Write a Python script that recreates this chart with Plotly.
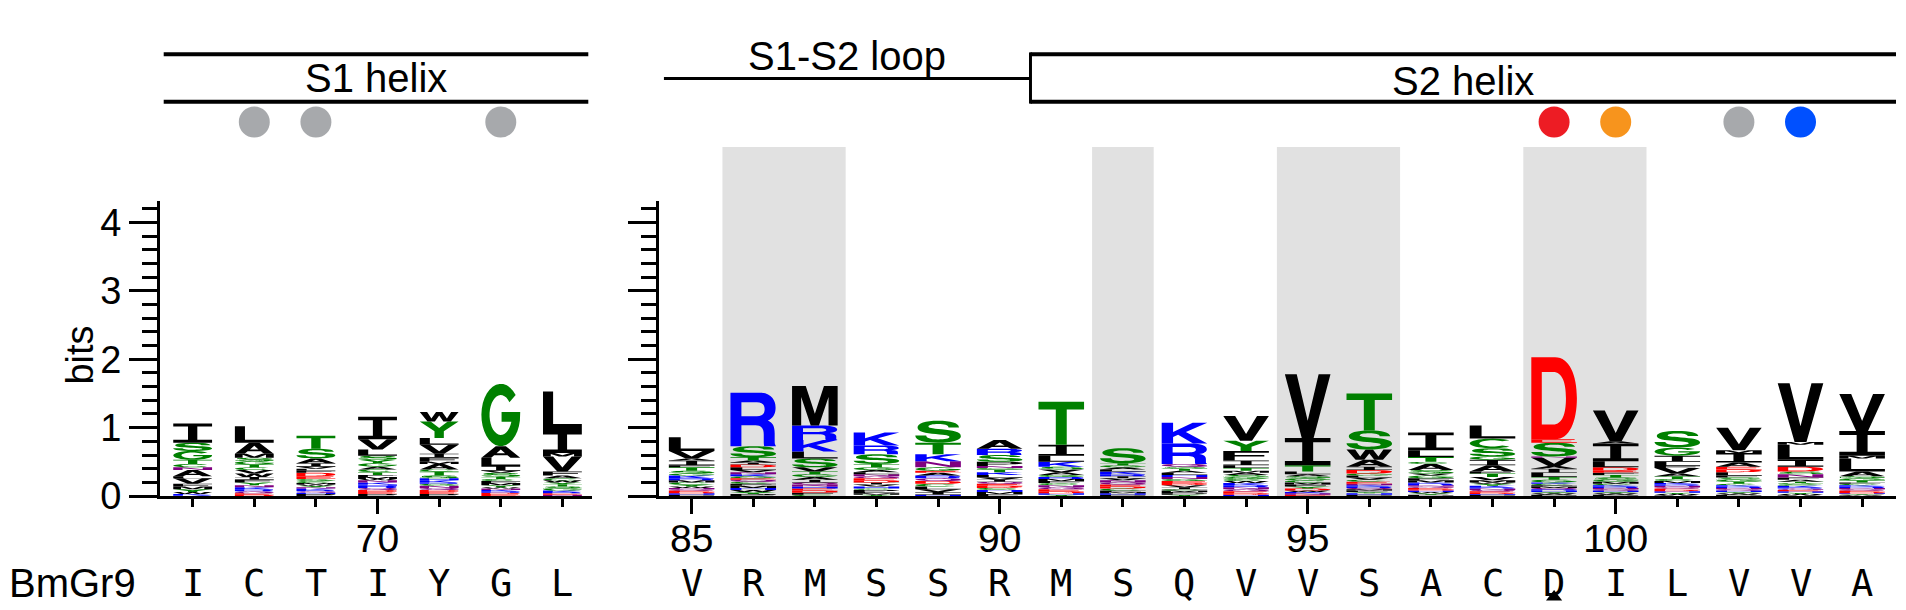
import re

import numpy as np
import plotly.graph_objects as go

W, H = 1906, 610

# ---------------- data ----------------
left_pos = list(range(67, 74))
right_pos = list(range(85, 105))
left_seq = list("ICTIYGL")
right_seq = list("VRMSSRMSQVVSACDILVVA")

# letters of each stack (top letter first) and their heights in bits
left_letters = [
    "ISGTCNALVFMYWKR",
    "LAMSGTCVWIFYNKRQED",
    "TSAIVLFDEGCMWYNKRQHP",
    "IVLSYGACTFMWNKHRQDEP",
    "WYLVIFMACTSHKRGNQDEP",
    "GALIVSTCFMYWNKRDE",
    "LIMVFACWYTSGKREN",
]
left_bits = [
    [.28, .12, .13, .06, .05, .04, .09, .03, .08, .04, .04, .04, .03, .02, .01],
    [.24, .16, .06, .05, .05, .04, .04, .05, .05, .04, .04, .04, .03, .03, .03, .03, .02, .02],
    [.19, .14, .07, .05, .03, .03, .03, .05, .04, .03, .03, .02, .02, .02, .02, .02, .02, .02, .02, .03],
    [.33, .15, .09, .06, .05, .05, .04, .04, .04, .03, .03, .02, .03, .03, .02, .03, .03, .03, .03, .03],
    [.14, .24, .10, .13, .06, .06, .03, .08, .03, .06, .04, .03, .03, .02, .03, .03, .03, .03, .03, .03],
    [.91, .17, .12, .07, .03, .06, .03, .03, .03, .03, .03, .02, .02, .02, .02, .02, .03],
    [.58, .32, .05, .22, .06, .04, .03, .03, .03, .03, .03, .03, .02, .02, .02, .02],
]
right_letters = [
    "LVAIFTSGKRMCYWNQEDHP",
    "RSTAIDLVNKGEQCFMHWYP",
    "MRKLSVTGAIQNHEDFC",
    "KRSTGALNQEDIVHCPFMY",
    "STKNGEARQDCLVIH",
    "ARSPNGTKLVIQEDCHMF",
    "TILKSVAGRMFCNQEDHY",
    "STGALKRIVNQEDCFMHP",
    "KRQSTALHNGEDVICMFPY",
    "VYFILTMASGCWKRNQEDH",
    "VITLASGCMFYDWKNE",
    "TSWAIDGLVCENKRQMFYHP",
    "ILTCASVGFMKRNQEDHWYP",
    "LCSGIAFTVMWYKRNQEDHP",
    "DESNVAILTGKCFMQRHYWP",
    "VAILDEFTSGMCKRNQHYWP",
    "SGILFVATCMKRNQEDHYWP",
    "VMIAEDLFSGTCKRNQHYWP",
    "VMLIDSNFATGCKRQEHYWP",
    "VIMLASGTFCKRNQEDHYWP",
]
right_bits = [
    [.20, .11, .03, .07, .03, .05, .04, .03, .04, .03, .03, .03, .03, .02, .02, .02, .02, .02, .02, .02],
    [.78, .16, .05, .03, .03, .04, .04, .03, .03, .03, .03, .02, .03, .03, .03, .03, .03, .03, .03, .03],
    [.58, .21, .17, .10, .13, .06, .04, .04, .04, .04, .03, .03, .03, .03, .03, .03, .02],
    [.19, .13, .14, .05, .04, .03, .03, .03, .03, .03, .03, .03, .03, .03, .02, .03, .02, .02, .02],
    [.32, .17, .10, .09, .05, .03, .04, .04, .04, .04, .04, .04, .04, .04, .02],
    [.13, .09, .10, .06, .03, .02, .04, .04, .04, .03, .03, .03, .03, .03, .03, .03, .03, .03],
    [.63, .16, .09, .07, .04, .04, .04, .03, .03, .03, .03, .03, .03, .03, .03, .03, .02, .02],
    [.22, .03, .03, .03, .03, .04, .03, .03, .03, .03, .03, .03, .03, .03, .02, .02, .02, .02],
    [.30, .30, .04, .03, .03, .03, .03, .03, .03, .03, .03, .03, .03, .03, .02, .02, .02, .02, .02],
    [.36, .15, .14, .07, .04, .04, .03, .03, .03, .03, .03, .03, .03, .03, .03, .03, .03, .02, .02],
    [.93, .40, .09, .04, .03, .03, .03, .03, .03, .03, .03, .03, .02, .02, .02, .02],
    [.54, .28, .15, .10, .05, .05, .03, .03, .03, .03, .03, .02, .02, .02, .02, .02, .02, .02, .02, .02],
    [.26, .10, .07, .03, .09, .05, .03, .04, .03, .03, .02, .02, .02, .02, .02, .02, .02, .02, .02, .02],
    [.19, .14, .12, .05, .08, .09, .03, .05, .05, .03, .02, .03, .02, .02, .02, .02, .02, .02, .01, .02],
    [1.20, .05, .20, .02, .12, .04, .06, .06, .04, .04, .02, .02, .02, .02, .02, .02, .02, .02, .02, .02],
    [.45, .03, .26, .09, .05, .03, .03, .04, .03, .03, .03, .02, .02, .02, .02, .02, .02, .02, .02, .02],
    [.24, .12, .09, .06, .03, .08, .04, .04, .03, .03, .02, .02, .02, .02, .02, .02, .02, .02, .02, .01],
    [.33, .04, .14, .06, .04, .04, .05, .03, .03, .03, .03, .02, .02, .02, .02, .02, .02, .02, .02, .02],
    [.86, .04, .22, .10, .07, .04, .05, .03, .03, .02, .02, .02, .02, .02, .02, .02, .02, .02, .02, .01],
    [.54, .36, .04, .19, .07, .03, .03, .03, .02, .02, .02, .02, .02, .02, .02, .02, .01, .01, .01, .01],
]

shaded = [(86, 87), (92, 92), (95, 96), (99, 100)]
left_dots = [68, 69, 72]
left_dot_colors = ["#A7A9AC", "#A7A9AC", "#A7A9AC"]
right_dots = [99, 100, 102, 103]
right_dot_colors = ["#ED1C24", "#F7941D", "#A7A9AC", "#0050FF"]
pointer_pos = [99]

s1_helix = (66.53, 73.42)
s1s2_loop = (84.55, 90.5)
s2_helix = (90.5, 104.55)

# ---------------- glyphs ----------------
FONT = "Liberation Sans, Arial, sans-serif"
COLORS = {}
for group, col in [("GSTYC", "#008000"), ("NQ", "#800080"), ("KRH", "#0000FF"),
                   ("DE", "#FF0000"), ("AVLIPWFM", "#000000")]:
    for ch in group:
        COLORS[ch] = col


def arc(rx, ry, a0, a1, n=30):
    t = np.radians(np.linspace(a0, a1, n))
    return [(0.5 + rx * np.cos(a), 0.5 + ry * np.sin(a)) for a in t]


def poly(pts):
    return "M" + " L".join(f"{x:.4f},{y:.4f}" for x, y in pts) + " Z"


ring_c = poly(arc(.5, .5, 42, 318) + arc(.29, .32, 318, 42))
ring_o = poly(arc(.5, .5, 0, 360)) + " " + poly(arc(.29, .32, 360, 0))
ring_g = poly(arc(.5, .5, 40, 350) + [(1, .55), (.52, .55), (.52, .39)] + arc(.29, .32, 340, 40))

GLYPHS = {
    "A": ["M0,0 L0.37,1 L0.63,1 L1,0 L0.75,0 L0.67,0.22 L0.33,0.22 L0.25,0 Z "
          "M0.39,0.39 L0.61,0.39 L0.5,0.72 Z"],
    "C": [ring_c],
    "D": ["M0,0 L0,1 L0.52,1 C0.84,1 1,0.78 1,0.5 C1,0.22 0.84,0 0.52,0 Z "
          "M0.23,0.18 L0.23,0.82 L0.48,0.82 C0.68,0.82 0.76,0.69 0.76,0.5 C0.76,0.31 0.68,0.18 0.48,0.18 Z"],
    "E": ["M0,0 L0,1 L0.95,1 L0.95,0.82 L0.24,0.82 L0.24,0.59 L0.88,0.59 L0.88,0.42 "
          "L0.24,0.42 L0.24,0.18 L1,0.18 L1,0 Z"],
    "F": ["M0,0 L0,1 L1,1 L1,0.82 L0.25,0.82 L0.25,0.58 L0.9,0.58 L0.9,0.41 L0.25,0.41 L0.25,0 Z"],
    "G": [ring_g],
    "H": ["M0,0 L0,1 L0.24,1 L0.24,0.6 L0.76,0.6 L0.76,1 L1,1 L1,0 L0.76,0 L0.76,0.42 L0.24,0.42 L0.24,0 Z"],
    "I": ["M0,0 L0,0.16 L0.38,0.16 L0.38,0.84 L0,0.84 L0,1 L1,1 L1,0.84 L0.62,0.84 L0.62,0.16 L1,0.16 L1,0 Z"],
    "K": ["M0,0 L0,1 L0.25,1 L0.25,0.56 L0.68,1 L1,1 L0.53,0.56 L1,0 L0.69,0 L0.36,0.42 L0.25,0.31 L0.25,0 Z"],
    "L": ["M0,0 L0,1 L0.26,1 L0.26,0.18 L1,0.18 L1,0 Z"],
    "M": ["M0,0 L0,1 L0.3,1 L0.5,0.3 L0.7,1 L1,1 L1,0 L0.8,0 L0.8,0.72 L0.59,0 L0.41,0 L0.2,0.72 L0.2,0 Z"],
    "N": ["M0,0 L0,1 L0.24,1 L0.76,0.33 L0.76,1 L1,1 L1,0 L0.76,0 L0.24,0.67 L0.24,0 Z"],
    "P": ["M0,0 L0,1 L0.62,1 C0.87,1 1,0.86 1,0.69 C1,0.52 0.87,0.38 0.62,0.38 L0.24,0.38 L0.24,0 Z "
          "M0.24,0.55 L0.24,0.83 L0.58,0.83 C0.7,0.83 0.76,0.77 0.76,0.69 C0.76,0.61 0.7,0.55 0.58,0.55 Z"],
    "Q": [ring_o, "M0.52,0.28 L0.68,0.40 L1,0.1 L1,0 L0.84,0 Z"],
    "R": ["M0,0 L0,1 L0.64,1 C0.88,1 0.99,0.87 0.99,0.72 C0.99,0.6 0.93,0.52 0.82,0.48 "
          "C0.93,0.44 0.97,0.37 0.97,0.24 L0.97,0.08 C0.97,0.04 0.98,0.02 1,0 L0.74,0 "
          "C0.73,0.03 0.73,0.07 0.73,0.12 L0.73,0.22 C0.73,0.34 0.67,0.39 0.55,0.39 L0.24,0.39 L0.24,0 Z "
          "M0.24,0.56 L0.24,0.82 L0.58,0.82 C0.7,0.82 0.75,0.77 0.75,0.69 C0.75,0.61 0.7,0.56 0.58,0.56 Z"],
    "S": ["M0.96,0.70 C0.95,0.90 0.78,1 0.50,1 C0.22,1 0.05,0.88 0.05,0.70 C0.05,0.50 0.22,0.45 0.45,0.40 "
          "C0.68,0.35 0.75,0.33 0.75,0.26 C0.75,0.19 0.65,0.15 0.50,0.15 C0.33,0.15 0.24,0.22 0.24,0.33 "
          "L0,0.33 C0,0.1 0.2,0 0.5,0 C0.8,0 1,0.12 1,0.30 C1,0.50 0.82,0.56 0.58,0.61 "
          "C0.35,0.66 0.29,0.67 0.29,0.74 C0.29,0.81 0.38,0.85 0.50,0.85 C0.64,0.85 0.72,0.80 0.73,0.70 Z"],
    "T": ["M0.38,0 L0.38,0.82 L0,0.82 L0,1 L1,1 L1,0.82 L0.62,0.82 L0.62,0 Z"],
    "V": ["M0,1 L0.26,1 L0.5,0.27 L0.74,1 L1,1 L0.63,0 L0.37,0 Z"],
    "W": ["M0,1 L0.19,1 L0.3,0.32 L0.42,1 L0.58,1 L0.7,0.32 L0.81,1 L1,1 L0.8,0 L0.61,0 "
          "L0.5,0.62 L0.39,0 L0.2,0 Z"],
    "Y": ["M0,1 L0.28,1 L0.5,0.6 L0.72,1 L1,1 L0.62,0.4 L0.62,0 L0.38,0 L0.38,0.4 Z"],
}

TOKEN = re.compile(r"[MLCZ]|-?\d*\.?\d+")


def place(path, x0, y0, w, h):
    out, k = [], 0
    for tok in TOKEN.findall(path):
        if tok in "MLCZ":
            out.append(tok)
        else:
            v = float(tok)
            out.append(f"{x0 + v * w:.4f}" if k % 2 == 0 else f"{y0 + v * h:.5f}")
            k += 1
    return " ".join(out)


def logo_shapes(positions, letters, bits, xref, yref, width):
    shapes = []
    for x, lets, hs in zip(positions, letters, bits):
        y = 0.0
        for ch, b in reversed(list(zip(lets, hs))):
            for p in GLYPHS[ch]:
                shapes.append(dict(type="path", path=place(p, x - width / 2, y, width, b),
                                   xref=xref, yref=yref, fillcolor=COLORS[ch],
                                   line=dict(width=0), fillrule="evenodd"))
            y += b
    return shapes


# ---------------- layout geometry ----------------
def py(px):  # pixel row -> paper y
    return (H - px) / H


ydom = [py(505.5), py(200)]
shapes = []

for a, b in shaded:
    shapes.append(dict(type="rect", xref="x2", yref="paper", x0=a - 0.5, x1=b + 0.5,
                       y0=ydom[0], y1=py(144), fillcolor="#E1E1E1", line=dict(width=0),
                       layer="below"))

shapes += logo_shapes(left_pos, left_letters, left_bits, "x", "y", 0.63)
shapes += logo_shapes(right_pos, right_letters, right_bits, "x2", "y2", 0.74)

# secondary structure bars
for yy in (48, 97):
    shapes.append(dict(type="line", xref="x", yref="paper", x0=s1_helix[0], x1=s1_helix[1],
                       y0=py(yy), y1=py(yy), line=dict(color="black", width=4)))
    shapes.append(dict(type="line", xref="x2", yref="paper", x0=s2_helix[0], x1=s2_helix[1],
                       y0=py(yy), y1=py(yy), line=dict(color="black", width=4)))
shapes.append(dict(type="line", xref="x2", yref="paper", x0=s2_helix[0], x1=s2_helix[0],
                   y0=py(46), y1=py(99), line=dict(color="black", width=3)))
shapes.append(dict(type="line", xref="x2", yref="paper", x0=s1s2_loop[0], x1=s1s2_loop[1],
                   y0=py(73), y1=py(73), line=dict(color="black", width=3)))


def label(text, xref, x, y, size=40, family=FONT, **kw):
    d = dict(text=text, xref=xref, yref="paper", x=x, y=y, showarrow=False,
             xanchor="center", yanchor="middle",
             font=dict(family=family, size=size, color="black"))
    d.update(kw)
    return d


seq_y = py(596)
annotations = [
    label("S1 helix", "x", sum(s1_helix) / 2, py(73)),
    label("S1-S2 loop", "x2", sum(s1s2_loop) / 2, py(50)),
    label("S2 helix", "x2", sum(s2_helix) / 2, py(76)),
    label("bits", "paper", 72 / W, py(360), size=38, textangle=-90),
    label("BmGr9", "paper", 130 / W, seq_y, size=40, xanchor="right"),
]
for xr, pos, seq in (("x", left_pos, left_seq), ("x2", right_pos, right_seq)):
    for p, ch in zip(pos, seq):
        annotations.append(label(ch, xr, p, seq_y, size=37, family="DejaVu Sans Mono"))

fig = go.Figure()
fig.add_trace(go.Scatter(x=left_dots, y=[0.5] * len(left_dots), xaxis="x", yaxis="y3",
                         mode="markers", marker=dict(size=31, color=left_dot_colors),
                         hoverinfo="skip"))
fig.add_trace(go.Scatter(x=right_dots, y=[0.5] * len(right_dots), xaxis="x2", yaxis="y3",
                         mode="markers", marker=dict(size=31, color=right_dot_colors),
                         hoverinfo="skip"))
# small pointer under the conserved D
fig.add_trace(go.Scatter(x=pointer_pos, y=[0] * len(pointer_pos), xaxis="x2", yaxis="y4",
                         mode="markers", cliponaxis=False,
                         marker=dict(symbol="triangle-up", size=14, color="black"),
                         hoverinfo="skip"))

xcommon = dict(showgrid=False, zeroline=False, showline=True, linecolor="black", linewidth=3,
               ticks="outside", ticklen=15, tickwidth=3, tickcolor="black", dtick=5, tick0=0,
               minor=dict(dtick=1, ticklen=8, tickwidth=3, tickcolor="black", ticks="outside"),
               tickfont=dict(family=FONT, size=39, color="black"), ticklabelstandoff=-9,
               fixedrange=True)
ycommon = dict(showgrid=False, zeroline=False, showline=True, linecolor="black", linewidth=3,
               ticks="outside", ticklen=28, tickwidth=3, tickcolor="black", dtick=1, tick0=0,
               minor=dict(dtick=0.2, ticklen=15, tickwidth=3, tickcolor="black", ticks="outside"),
               tickfont=dict(family=FONT, size=38, color="black"), range=[0, 4.31],
               domain=ydom, fixedrange=True)

fig.update_layout(
    width=W, height=H,
    margin=dict(l=0, r=0, t=0, b=0),
    paper_bgcolor="white",
    plot_bgcolor="rgba(0,0,0,0)",
    showlegend=False,
    xaxis=dict(xcommon, domain=[152 / W, 584 / W], range=[66.47, 73.48], anchor="y"),
    yaxis=dict(ycommon, anchor="x"),
    xaxis2=dict(xcommon, domain=[651 / W, 1888 / W], range=[84.47, 104.55], anchor="y2"),
    yaxis2=dict(ycommon, anchor="x2", showticklabels=False),
    yaxis3=dict(domain=[py(118) - 0.05, py(118) + 0.05], range=[0, 1], visible=False,
                anchor="x", fixedrange=True),
    yaxis4=dict(domain=[0, 0.02], range=[0, 1], visible=False, anchor="x2",
                fixedrange=True),
    shapes=shapes,
    annotations=annotations,
)

fig.write_html("out.html")
